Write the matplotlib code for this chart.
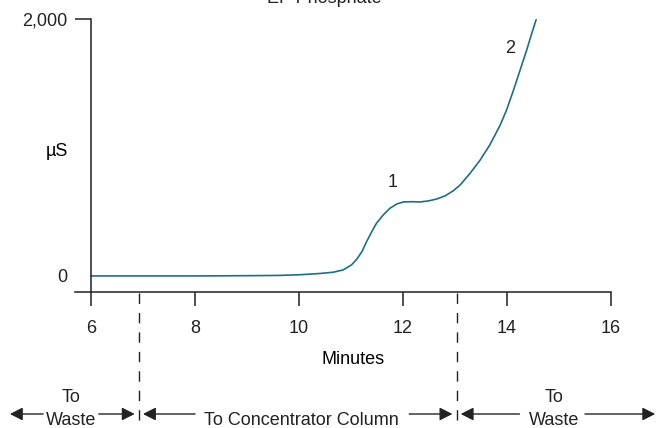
import matplotlib
matplotlib.use("Agg")
import matplotlib.pyplot as plt
from matplotlib import font_manager as fm
from matplotlib.transforms import blended_transform_factory


def pick(names):
    for n in names:
        try:
            fm.findfont(fm.FontProperties(family=n), fallback_to_default=False)
            return n
        except Exception:
            pass
    return "DejaVu Sans"


FONT = pick(["Liberation Sans Narrow", "Liberation Sans"])
FS = 14 if "Narrow" in FONT else 13
plt.rcParams["font.family"] = [FONT, "DejaVu Sans"]
plt.rcParams["font.size"] = FS

# ---- data ----
minutes = [6.0, 8.0, 9.0, 9.6, 10.0, 10.4, 10.66, 10.85, 11.01, 11.11, 11.21, 11.30,
           11.40, 11.49, 11.62, 11.75, 11.88, 12.01, 12.17, 12.33, 12.49, 12.65, 12.81,
           12.97, 13.10, 13.29, 13.48, 13.67, 13.87, 13.99, 14.12, 14.25, 14.38, 14.47,
           14.56]
conductivity = [0, 0, 2, 4, 9, 19, 29, 47, 86, 130, 189, 267,
                345, 410, 475, 527, 560, 576, 578, 576, 584, 599, 623,
                664, 708, 799, 900, 1020, 1175, 1290, 1440, 1600, 1760, 1880,
                1995]
x_ticks = [6, 8, 10, 12, 14, 16]
y_ticks = [0, 2000]
y_ticklabels = ["0", "2,000"]
peak_labels = ["1", "2"]
peak_x = [11.81, 14.06]
peak_y = [731, 1774]
valve_switch = [6.92, 13.03]
title = "EP Phosphate"

LINE = "#1d6f86"
INK = "#222222"

fig = plt.figure(figsize=(6.56, 4.28), dpi=100)
W, H = 656, 428
ax = fig.add_axes([75 / W, (H - 292) / H, (611 - 75) / W, (292 - 19) / H])
ax.set_xlim(6 - 16 / 52, 16)
ax.set_ylim(-125, 2000)

ax.plot(minutes, conductivity, color=LINE, lw=1.2, solid_joinstyle="round",
        solid_capstyle="round")

for s in ["top", "right"]:
    ax.spines[s].set_visible(False)
ax.spines["left"].set_position(("data", 6))
for s in ["left", "bottom"]:
    ax.spines[s].set_linewidth(1.1)
    ax.spines[s].set_color(INK)

ax.set_xticks(x_ticks)
ax.set_xticklabels([str(v) for v in x_ticks])
ax.set_yticks(y_ticks)
ax.set_yticklabels(y_ticklabels)
ax.tick_params(axis="x", direction="out", length=10, width=1.1, pad=10, colors=INK)
ax.tick_params(axis="y", direction="out", length=11.5, width=1.1, pad=5.5, colors=INK)
ax.yaxis.get_major_ticks()[0].tick1line.set_visible(False)

ax.set_xlabel("Minutes", va="center")
ax.xaxis.set_label_coords((353 - 75) / 536, (292 - 360) / 273)
ax.set_ylabel("µS", rotation=0, ha="center", va="center")
ax.yaxis.set_label_coords((57 - 75) / 536, (292 - 152) / 273)

for lab, px, py in zip(peak_labels, peak_x, peak_y):
    ax.text(px, py, lab, ha="center", va="center", color=INK)

fig.text(324 / W, 1 - 3 / H, title, ha="center", va="baseline", color=INK)

# valve switch dashed lines
tr = blended_transform_factory(ax.transData, ax.transAxes)
for v in valve_switch:
    ax.plot([v, v], [-0.005, -0.5], transform=tr, clip_on=False, color=INK,
            lw=1.0, ls=(0, (7.5, 6.5)))

# bottom flow annotations
y_arrow = (292 - 414) / 273
y_to = (292 - 402) / 273
y_waste = (292 - 425) / 273


def arrow(x0, x1):
    ax.annotate("", xy=(x1, y_arrow), xytext=(x0, y_arrow),
                xycoords=("data", "axes fraction"), textcoords=("data", "axes fraction"),
                annotation_clip=False,
                arrowprops=dict(arrowstyle="-|>,head_length=0.55,head_width=0.28",
                                mutation_scale=14, color=INK, lw=1.0,
                                shrinkA=0, shrinkB=0))


gap = 0.08
# left: to waste
arrow(5.08, 4.44)
arrow(6.15, valve_switch[0] - gap)
ax.text(5.615, y_to, "To", transform=tr, ha="center", va="baseline", color=INK)
ax.text(5.615, y_waste, "Waste", transform=tr, ha="center", va="baseline", color=INK)
# middle: to concentrator column
arrow(8.0, valve_switch[0] + gap)
arrow(12.12, valve_switch[1] - gap)
ax.text(10.04, y_waste, "To Concentrator Column", transform=tr, ha="center",
        va="baseline", color=INK)
# right: to waste
arrow(14.24, valve_switch[1] + gap)
arrow(15.5, 16.85)
ax.text(14.9, y_to, "To", transform=tr, ha="center", va="baseline", color=INK)
ax.text(14.9, y_waste, "Waste", transform=tr, ha="center", va="baseline", color=INK)

fig.savefig("out.png", dpi=100)
